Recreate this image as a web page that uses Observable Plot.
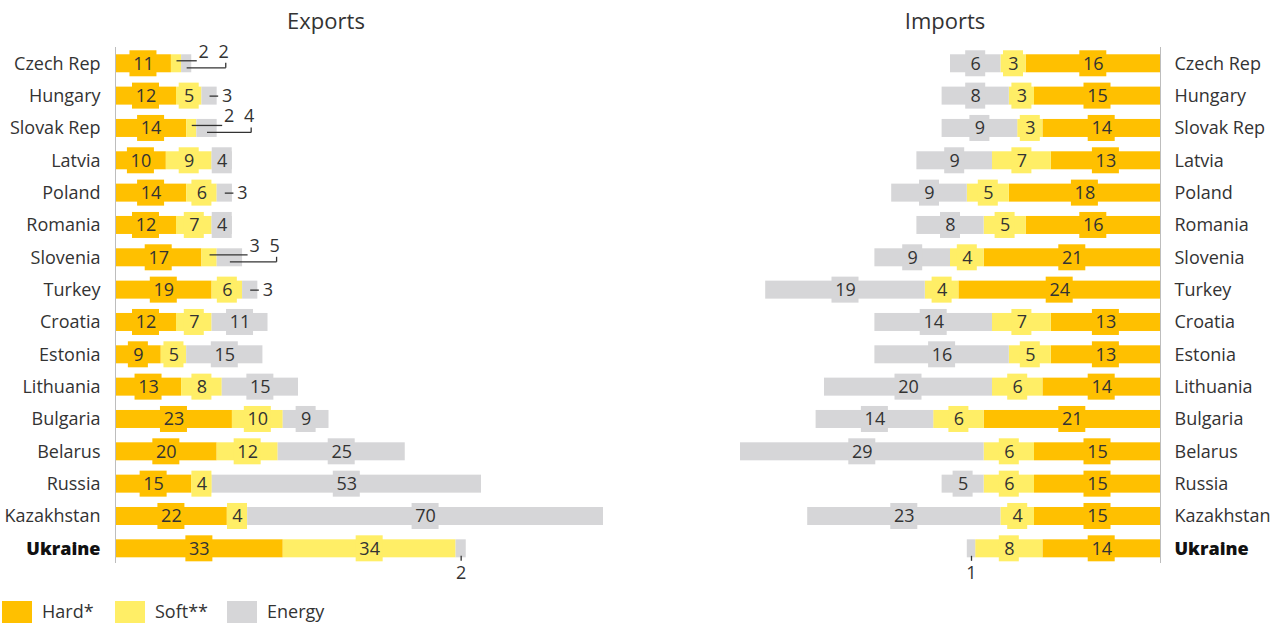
<!DOCTYPE html>
<html><head><meta charset="utf-8">
<script src="https://cdn.jsdelivr.net/npm/d3@7"></script>
<script src="https://cdn.jsdelivr.net/npm/@observablehq/plot@0.6"></script>
<style>
body{margin:0;background:#fff;font-family:"Open Sans",sans-serif;color:#333}
#wrap{position:relative;width:1279px;height:623px;overflow:hidden}
.title{position:absolute;top:5px;font-size:22px;transform:translateX(-50%);white-space:nowrap;font-weight:400;color:#333}
#ex{position:absolute;left:0;top:40px}
#im{position:absolute;left:640px;top:40px}
.lg{position:absolute;top:601px;height:22px;width:30px}
.lgt{position:absolute;top:599px;font-size:18px;font-weight:400;line-height:24px;color:#333}
</style></head>
<body><div id="wrap">
<div class="title" style="left:326px">Exports</div>
<div class="title" style="left:945px">Imports</div>
<div id="ex"></div><div id="im"></div>
<div id="legend"></div>
</div>
<script>
const countries = ["Czech Rep","Hungary","Slovak Rep","Latvia","Poland","Romania","Slovenia","Turkey","Croatia","Estonia","Lithuania","Bulgaria","Belarus","Russia","Kazakhstan","Ukraine"];
const highlight = "Ukraine";
const series = ["Hard*","Soft**","Energy"];
const colors = ["#FFC000","#FFEE66","#D6D6D8"];
const exportsHard   = [11,12,14,10,14,12,17,19,12, 9,13,23,20,15,22,33];
const exportsSoft   = [ 2, 5, 2, 9, 6, 7, 3, 6, 7, 5, 8,10,12, 4, 4,34];
const exportsEnergy = [ 2, 3, 4, 4, 3, 4, 5, 3,11,15,15, 9,25,53,70, 2];
const importsHard   = [16,15,14,13,18,16,21,24,13,13,14,21,15,15,15,14];
const importsSoft   = [ 3, 3, 3, 7, 5, 5, 4, 4, 7, 5, 6, 6, 6, 6, 4, 8];
const importsEnergy = [ 6, 8, 9, 9, 9, 8, 9,19,14,16,20,14,29, 5,23, 1];
const exportCallouts = [
  ["Czech Rep","Soft**","upper"],["Czech Rep","Energy","lower"],
  ["Hungary","Energy","side"],
  ["Slovak Rep","Soft**","upper"],["Slovak Rep","Energy","lower"],
  ["Poland","Energy","side"],
  ["Slovenia","Soft**","upper"],["Slovenia","Energy","lower"],
  ["Turkey","Energy","side"],
  ["Ukraine","Energy","below"]
];
const importCallouts = [["Ukraine","Energy","below"]];

const PLOT_H = 531.6;
const STEP = PLOT_H / 16.44;
const FONT = "Open Sans";
const TEXT = "#333";

function panel({hard, soft, energy, callouts, xDomain, xRange, width, side}) {
  const vals = [hard, soft, energy];
  const segs = [];
  countries.forEach((c, i) => {
    let acc = 0;
    const total = hard[i] + soft[i] + energy[i];
    series.forEach((s, j) => {
      const v = vals[j][i];
      segs.push({country: c, i, series: s, value: v, x1: acc, x2: acc + v, mid: acc + v / 2, total});
      acc += v;
    });
  });
  const k = Math.abs(xRange[1] - xRange[0]) / (xDomain[1] - xDomain[0]);
  const px = p => p / k, py = p => p / STEP;
  const key = (c, s) => c + "|" + s;
  const callSet = new Set(callouts.map(([c, s]) => key(c, s)));
  const inside = segs.filter(d => !callSet.has(key(d.country, d.series)));
  const one = inside.filter(d => String(d.value).length === 1);
  const two = inside.filter(d => String(d.value).length > 1);
  const lines = [], texts = [];
  for (const [c, s, kind] of callouts) {
    const d = segs.find(e => e.country === c && e.series === s);
    const e = d.total;
    if (kind === "upper") {
      lines.push({x1: d.mid, x2: e + px(5), y1: d.i - py(3), y2: d.i - py(3)});
      texts.push({x: e + px(12), y: d.i - py(12), text: d.value});
    } else if (kind === "lower") {
      lines.push({x1: d.mid, x2: e + px(34), y1: d.i + py(4), y2: d.i + py(4)});
      lines.push({x1: e + px(34), x2: e + px(34), y1: d.i + py(4), y2: d.i - py(1)});
      texts.push({x: e + px(32), y: d.i - py(12), text: d.value});
    } else if (kind === "side") {
      lines.push({x1: d.mid, x2: e + px(1), y1: d.i, y2: d.i});
      texts.push({x: e + px(10), y: d.i, text: d.value});
    } else if (kind === "below") {
      lines.push({x1: d.mid, x2: d.mid, y1: d.i + py(7), y2: d.i + py(12)});
      texts.push({x: d.mid, y: d.i + py(24), text: d.value});
    }
  }
  const half = py(9), boxHalf = py(13);
  const anchor = side === "left" ? "end" : "start";
  const ldx = side === "left" ? -15 : 14;
  return Plot.plot({
    width, height: 580, margin: 0,
    style: {fontFamily: FONT, background: "transparent"},
    x: {domain: xDomain, range: xRange, axis: null},
    y: {domain: [-0.72, 15.72], range: [0, PLOT_H], axis: null},
    color: {domain: series, range: colors},
    marks: [
      Plot.rect(segs, {x1: "x1", x2: "x2", y1: d => d.i - half, y2: d => d.i + half, fill: "series"}),
      Plot.rect(one, {x1: "mid", x2: "mid", y1: d => d.i - boxHalf, y2: d => d.i + boxHalf, fill: "series", insetLeft: -10, insetRight: -10}),
      Plot.rect(two, {x1: "mid", x2: "mid", y1: d => d.i - boxHalf, y2: d => d.i + boxHalf, fill: "series", insetLeft: -13.5, insetRight: -13.5}),
      Plot.text(inside, {x: "mid", y: "i", text: d => String(d.value), fontSize: 18, fill: TEXT}),
      Plot.ruleX([0], {stroke: "#bdbdbd", strokeWidth: 1, insetTop: 7, insetBottom: 57}),
      Plot.text(countries.filter(c => c !== highlight), {x: () => 0, y: c => countries.indexOf(c), text: c => c, textAnchor: anchor, dx: ldx, fontSize: 18, fill: TEXT}),
      Plot.text([highlight], {x: () => 0, y: c => countries.indexOf(c), text: c => c, textAnchor: anchor, dx: ldx, fontSize: 18, fill: "#111", fontWeight: 800}),
      Plot.link(lines, {x1: "x1", x2: "x2", y1: "y1", y2: "y2", stroke: "#333", strokeWidth: 1.3}),
      Plot.text(texts, {x: "x", y: "y", text: d => String(d.text), fontSize: 18, fill: TEXT})
    ]
  });
}

document.getElementById("ex").append(panel({
  hard: exportsHard, soft: exportsSoft, energy: exportsEnergy, callouts: exportCallouts,
  xDomain: [0, 96], xRange: [115, 603], width: 640, side: "left"
}));
document.getElementById("im").append(panel({
  hard: importsHard, soft: importsSoft, energy: importsEnergy, callouts: importCallouts,
  xDomain: [0, 50], xRange: [520, 100], width: 639, side: "right"
}));

const lg = document.getElementById("legend");
const swX = [2, 115, 227];
series.forEach((s, j) => {
  const sw = document.createElement("div");
  sw.className = "lg"; sw.style.left = swX[j] + "px"; sw.style.background = colors[j];
  const t = document.createElement("div");
  t.className = "lgt"; t.style.left = (swX[j] + 40) + "px"; t.textContent = s;
  lg.append(sw, t);
});
</script>
</body></html>
